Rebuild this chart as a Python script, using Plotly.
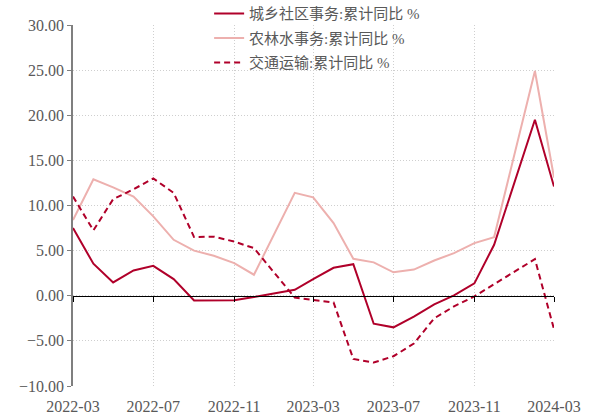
import plotly.graph_objects as go

dates = ["2022-03", "2022-04", "2022-05", "2022-06", "2022-07", "2022-08", "2022-09",
         "2022-10", "2022-11", "2022-12", "2023-02", "2023-03", "2023-04", "2023-05",
         "2023-06", "2023-07", "2023-08", "2023-09", "2023-10", "2023-11", "2023-12",
         "2024-02", "2024-03"]
urban_rural = [7.5, 3.55, 1.47, 2.8, 3.32, 1.85, -0.52, -0.5, -0.5, -0.15,
               0.66, 1.85, 3.1, 3.5, -3.1, -3.5, -2.3, -0.96, 0.04, 1.37, 5.65,
               19.5, 12.1]
agri_water = [8.4, 12.9, 12.0, 11.0, 8.8, 6.2, 5.0, 4.43, 3.62, 2.33,
              11.4, 10.9, 8.05, 4.1, 3.7, 2.6, 2.9, 3.9, 4.72, 5.83, 6.5,
              24.9, 13.1]
transport = [11.0, 7.24, 10.7, 11.8, 13.0, 11.4, 6.5, 6.55, 6.0, 5.28,
             -0.2, -0.44, -0.74, -7.0, -7.4, -6.7, -5.3, -2.5, -1.18, -0.07, 1.3,
             4.06, -3.7]
names = ["城乡社区事务:累计同比 %", "农林水事务:累计同比 %", "交通运输:累计同比 %"]
tick_vals = ["2022-03", "2022-07", "2022-11", "2023-03", "2023-07", "2023-11", "2024-03"]
tick_text = tick_vals
y_range = [-10, 30]

dark = "#B0002A"
pink = "#EDB0AE"
serif = "'Liberation Serif', 'Times New Roman', 'Noto Sans CJK SC', serif"

fig = go.Figure()
fig.add_trace(go.Scatter(x=dates, y=urban_rural, name=names[0], mode="lines",
                         line=dict(color=dark, width=2), legendgroup="a"))
fig.add_trace(go.Scatter(x=dates, y=agri_water, name=names[1], mode="lines",
                         line=dict(color=pink, width=2), legendgroup="b"))
fig.add_trace(go.Scatter(x=dates, y=transport, name=names[2], mode="lines",
                         line=dict(color=dark, width=2, dash="6px,4px"), legendgroup="c"))
# invisible trace to host the zero-line axis
fig.add_trace(go.Scatter(x=[tick_vals[0], tick_vals[-1]], y=[0, 0], xaxis="x2",
                         mode="lines", line=dict(width=0), showlegend=False,
                         hoverinfo="skip"))

zero_pos = (0 - y_range[0]) / (y_range[1] - y_range[0])

fig.update_layout(
    width=589, height=417,
    margin=dict(l=73, r=35, t=25, b=31, autoexpand=False),
    paper_bgcolor="white", plot_bgcolor="white",
    font=dict(family=serif, size=16, color="#595959"),
    showlegend=True,
    legend=dict(x=0.283, y=1.077, xanchor="left", yanchor="top",
                font=dict(family=serif, size=15, color="#595959"),
                bgcolor="rgba(255,255,255,0)", tracegroupgap=2),
    xaxis=dict(type="date", range=[tick_vals[0], tick_vals[-1]],
               tickvals=tick_vals, ticktext=tick_text,
               showgrid=True, gridcolor="#CFCFCF", griddash="1px,2px", gridwidth=1,
               showline=False, ticks="", zeroline=False, ticklabelstandoff=9,
               tickfont=dict(family=serif, size=16, color="#595959")),
    xaxis2=dict(type="date", overlaying="x", matches="x", anchor="free",
                position=zero_pos, range=[tick_vals[0], tick_vals[-1]],
                tickvals=tick_vals, showticklabels=False,
                showline=True, linecolor="black", linewidth=1.2,
                ticks="outside", ticklen=5, tickcolor="black", tickwidth=1,
                showgrid=False, zeroline=False),
    yaxis=dict(range=y_range, dtick=5, tickformat=".2f",
               showgrid=True, gridcolor="#CFCFCF", griddash="1px,2px", gridwidth=1,
               showline=True, linecolor="#7F7F7F", linewidth=1.5,
               ticks="outside", ticklen=4, tickcolor="#7F7F7F",
               zeroline=False,
               tickfont=dict(family=serif, size=16, color="#595959")),
)

fig.write_html("out.html", config={"displayModeBar": False},
               post_script="document.body.style.margin='0px';")
